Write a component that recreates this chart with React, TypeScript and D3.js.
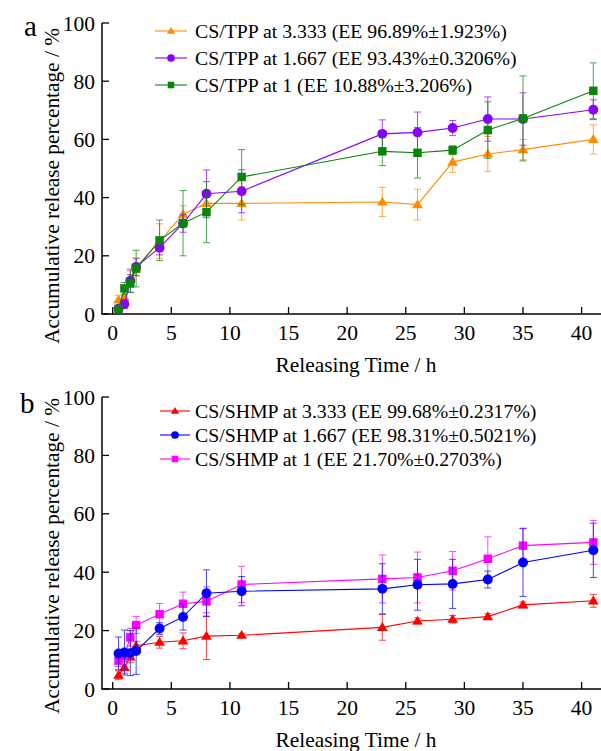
import React from "react";
import * as d3 from "d3";

const times = [0.5, 1, 1.5, 2, 4, 6, 8, 11, 23, 26, 29, 32, 35, 41];

// Panel a
const tpp3333 = [4.9, 5.8, 12.3, 16, 25, 34.2, 38, 38, 38.5, 37.6, 52.2, 55, 56.5, 60];
const tpp3333Err = [1.5, 2, 2.5, 3, 6, 3, 4, 5.7, 5, 5.3, 3.5, 6, 3.5, 5];
const tpp1667 = [1.8, 3.4, 11.4, 16.2, 22.8, 31.1, 41.3, 42.2, 61.9, 62.4, 63.9, 67, 67, 70.2];
const tpp1667Err = [1, 1.5, 4, 3, 2.5, 3, 8.2, 7.4, 4.8, 7, 2.6, 7.6, 9, 3.4];
const tpp1 = [1.7, 8.8, 10.5, 15.6, 25.3, 31.2, 35, 47.1, 55.9, 55.4, 56.3, 63.2, 67.2, 76.7];
const tpp1Err = [1, 2, 3, 6.3, 7, 11.2, 10.5, 9.4, 4.9, 8.7, 1.5, 9.7, 14.6, 9.6];

// Panel b
const shmp3333 = [4.7, 7.4, 11, 14.8, 16, 16.5, 18.1, 18.4, 21.1, 23.3, 23.9, 24.8, 28.8, 30.2];
const shmp3333Err = [1.5, 2, 2, 1.5, 2, 2.7, 8, 0.5, 4.4, 1, 1.3, 1, 1, 2.2];
const shmp1667 = [12.2, 12.5, 12.3, 13, 20.7, 24.7, 32.8, 33.5, 34.3, 35.7, 36, 37.5, 43.3, 47.5];
const shmp1667Err = [5.6, 7.7, 7.7, 8, 2, 4.5, 8, 5, 8.6, 8.7, 8.4, 2.9, 11.6, 9.3];
const shmp1 = [9.7, 11.3, 17.7, 21.9, 25.6, 29.2, 30, 35.8, 37.7, 38.2, 40.5, 44.6, 49.1, 50.2];
const shmp1Err = [2, 2, 3, 2.9, 3.7, 4, 5, 6.2, 8.2, 8.7, 6.6, 7.5, 6, 7.5];

const xTicks = [0, 5, 10, 15, 20, 25, 30, 35, 40];
const yTicks = [0, 20, 40, 60, 80, 100];

const labelsA = [
  "CS/TPP at 3.333 (EE 96.89%±1.923%)",
  "CS/TPP at 1.667 (EE 93.43%±0.3206%)",
  "CS/TPP at 1 (EE 10.88%±3.206%)",
];
const labelsB = [
  "CS/SHMP at 3.333 (EE 99.68%±0.2317%)",
  "CS/SHMP at 1.667 (EE 98.31%±0.5021%)",
  "CS/SHMP at 1 (EE 21.70%±0.2703%)",
];
const xTitle = "Releasing Time / h";
const yTitle = "Accumulative release percentage / %";

const FONT = "Liberation Serif";

type Shape = "triangle" | "circle" | "square";
interface Series {
  values: number[];
  errs: number[];
  color: string;
  shape: Shape;
  label: string;
}

function Marker({ shape, x, y, color, s }: { shape: Shape; x: number; y: number; color: string; s: number }) {
  if (shape === "circle") return <circle cx={x} cy={y} r={s * 0.55} fill={color} />;
  if (shape === "square")
    return <rect x={x - s * 0.47} y={y - s * 0.47} width={s * 0.94} height={s * 0.94} fill={color} />;
  const h = s * 0.95;
  return (
    <path
      d={`M${x},${y - h * 0.62} L${x + s * 0.6},${y + h * 0.42} L${x - s * 0.6},${y + h * 0.42} Z`}
      fill={color}
    />
  );
}

function Panel({
  top,
  bottom,
  series,
  letter,
  letterPos,
  legendRows,
  legendLine,
  yTitleCenter,
  drawOrder,
}: {
  top: number;
  bottom: number;
  series: Series[];
  letter: string;
  letterPos: [number, number];
  legendRows: number[];
  legendLine: [number, number];
  yTitleCenter: number;
  drawOrder: number[];
}) {
  const x = d3.scaleLinear().domain([0, 40]).range([112.7, 581.6]);
  const y = d3.scaleLinear().domain([0, 100]).range([bottom, top]);
  const axisLeftX = 102;
  const axisRightX = 601;
  const line = d3
    .line<number>()
    .x((_, i) => x(times[i]))
    .y((d) => y(d));

  return (
    <g>
      {/* axes */}
      <line x1={axisLeftX} x2={axisLeftX} y1={top} y2={bottom} stroke="#000" strokeWidth={1.5} />
      <line x1={axisLeftX - 0.75} x2={axisRightX} y1={bottom} y2={bottom} stroke="#000" strokeWidth={1.5} />
      {xTicks.map((t) => (
        <g key={"xt" + t}>
          <line x1={x(t)} x2={x(t)} y1={bottom} y2={bottom - 7} stroke="#000" strokeWidth={1.3} />
          <text x={x(t)} y={bottom + 26} textAnchor="middle" fontSize={21.5} fontFamily={FONT}>
            {t}
          </text>
        </g>
      ))}
      {yTicks.map((t) => (
        <g key={"yt" + t}>
          <line x1={axisLeftX} x2={axisLeftX + 7} y1={y(t)} y2={y(t)} stroke="#000" strokeWidth={1.3} />
          <text x={axisLeftX - 7} y={y(t)} dy="0.35em" textAnchor="end" fontSize={21.5} fontFamily={FONT}>
            {t}
          </text>
        </g>
      ))}
      <text x={356} y={bottom + 58} textAnchor="middle" fontSize={21.4} fontFamily={FONT}>
        {xTitle}
      </text>
      <text
        transform={`translate(59,${yTitleCenter}) rotate(-90)`}
        textAnchor="middle"
        fontSize={21.3}
        fontFamily={FONT}
      >
        {yTitle}
      </text>
      <text x={letterPos[0]} y={letterPos[1]} fontSize={29} fontFamily={FONT}>
        {letter}
      </text>

      {/* data */}
      {drawOrder.map((si) => {
        const s = series[si];
        return (
          <g key={"s" + si}>
            <path d={line(s.values) || ""} fill="none" stroke={s.color} strokeWidth={1.1} />
            {s.values.map((v, i) => {
              const cx = x(times[i]);
              const y1 = y(v + s.errs[i]);
              const y2 = y(Math.max(0, v - s.errs[i]));
              return (
                <g key={"e" + i} stroke={s.color} strokeWidth={1} opacity={0.72}>
                  <line x1={cx} x2={cx} y1={y1} y2={y2} />
                  <line x1={cx - 3.5} x2={cx + 3.5} y1={y1} y2={y1} />
                  <line x1={cx - 3.5} x2={cx + 3.5} y1={y2} y2={y2} />
                </g>
              );
            })}
            {s.values.map((v, i) => (
              <Marker key={"m" + i} shape={s.shape} x={x(times[i])} y={y(v)} color={s.color} s={9} />
            ))}
          </g>
        );
      })}

      {/* legend */}
      {series.map((s, i) => (
        <g key={"l" + i}>
          <line
            x1={legendLine[0]}
            x2={legendLine[1]}
            y1={legendRows[i]}
            y2={legendRows[i]}
            stroke={s.color}
            strokeWidth={1.1}
          />
          <Marker
            shape={s.shape}
            x={(legendLine[0] + legendLine[1]) / 2}
            y={legendRows[i]}
            color={s.color}
            s={7}
          />
          <text x={195} y={legendRows[i]} dy="0.33em" fontSize={19.8} fontFamily={FONT}>
            {s.label}
          </text>
        </g>
      ))}
    </g>
  );
}

export default function App() {
  const seriesA: Series[] = [
    { values: tpp3333, errs: tpp3333Err, color: "#ff8c00", shape: "triangle", label: labelsA[0] },
    { values: tpp1667, errs: tpp1667Err, color: "#8a00ff", shape: "circle", label: labelsA[1] },
    { values: tpp1, errs: tpp1Err, color: "#0a840a", shape: "square", label: labelsA[2] },
  ];
  const seriesB: Series[] = [
    { values: shmp3333, errs: shmp3333Err, color: "#ff0000", shape: "triangle", label: labelsB[0] },
    { values: shmp1667, errs: shmp1667Err, color: "#0000ff", shape: "circle", label: labelsB[1] },
    { values: shmp1, errs: shmp1Err, color: "#ff00ff", shape: "square", label: labelsB[2] },
  ];
  return (
    <svg
      width={601}
      height={751}
      style={{ position: "absolute", left: 0, top: 0, background: "#fff" }}
    >
      <rect width={601} height={751} fill="#fff" />
      <Panel
        top={23}
        bottom={314}
        series={seriesA}
        letter="a"
        letterPos={[24, 36]}
        legendRows={[31, 58, 85]}
        legendLine={[155, 187]}
        yTitleCenter={186}
        drawOrder={[0, 1, 2]}
      />
      <Panel
        top={397}
        bottom={689}
        series={seriesB}
        letter="b"
        letterPos={[20, 413]}
        legendRows={[411, 435, 459]}
        legendLine={[160, 190]}
        yTitleCenter={556}
        drawOrder={[0, 2, 1]}
      />
    </svg>
  );
}
